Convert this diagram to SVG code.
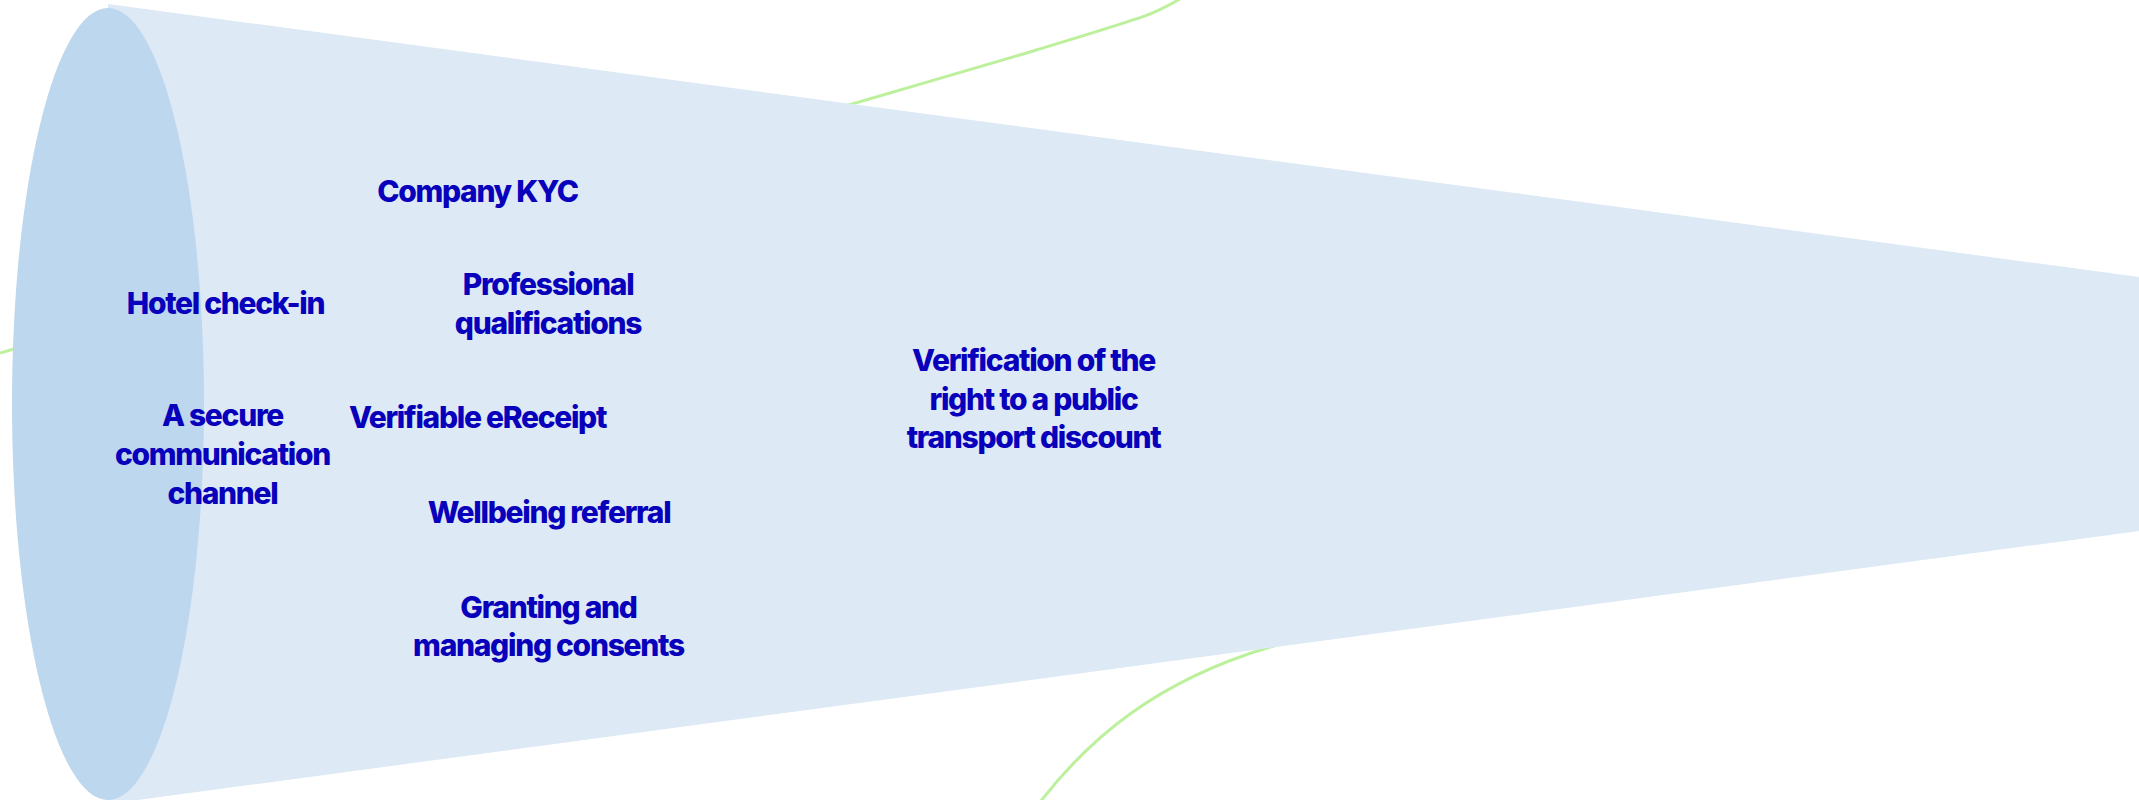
<svg xmlns="http://www.w3.org/2000/svg" width="2139" height="800" viewBox="0 0 2139 800">
<style>
.lbl{font-family:Inter,"Liberation Sans",sans-serif;font-weight:800;font-size:30px;fill:#0800bb;text-anchor:middle;letter-spacing:-1.3px}
.curve{fill:none;stroke:#bdf09c;stroke-width:3}
</style>
<rect width="2139" height="800" fill="#ffffff"/>
<g id="connectors">
<path class="curve" d="M0,353 C400,236 890,95 1030,52 S1150,16 1192,-8"/>
<path class="curve" d="M1034,810 C1090,735 1160,680 1270,647 S1360,625 1400,615"/>
</g>
<g id="funnel">
<polygon points="108,4 2139,277 2139,531 108,804" fill="#dde9f5"/>
<ellipse cx="108" cy="404" rx="96" ry="396" fill="#bdd7ee"/>
</g>
<g id="n-company-kyc"><text class="lbl" x="477.5" y="202">Company KYC</text></g>
<g id="n-professional"><text class="lbl" x="548" y="295">Professional</text><text class="lbl" x="548" y="334">qualifications</text></g>
<g id="n-hotel"><text class="lbl" x="225.5" y="314">Hotel check-in</text></g>
<g id="n-secure"><text class="lbl" x="222.5" y="426">A secure</text><text class="lbl" x="222.5" y="465">communication</text><text class="lbl" x="222.5" y="504">channel</text></g>
<g id="n-ereceipt"><text class="lbl" x="477.5" y="428">Verifiable eReceipt</text></g>
<g id="n-wellbeing"><text class="lbl" x="549" y="523">Wellbeing referral</text></g>
<g id="n-consents"><text class="lbl" x="548.5" y="618">Granting and</text><text class="lbl" x="548.5" y="656">managing consents</text></g>
<g id="n-transport"><text class="lbl" x="1033.5" y="371">Verification of the</text><text class="lbl" x="1033.5" y="410">right to a public</text><text class="lbl" x="1033.5" y="448">transport discount</text></g>
</svg>
